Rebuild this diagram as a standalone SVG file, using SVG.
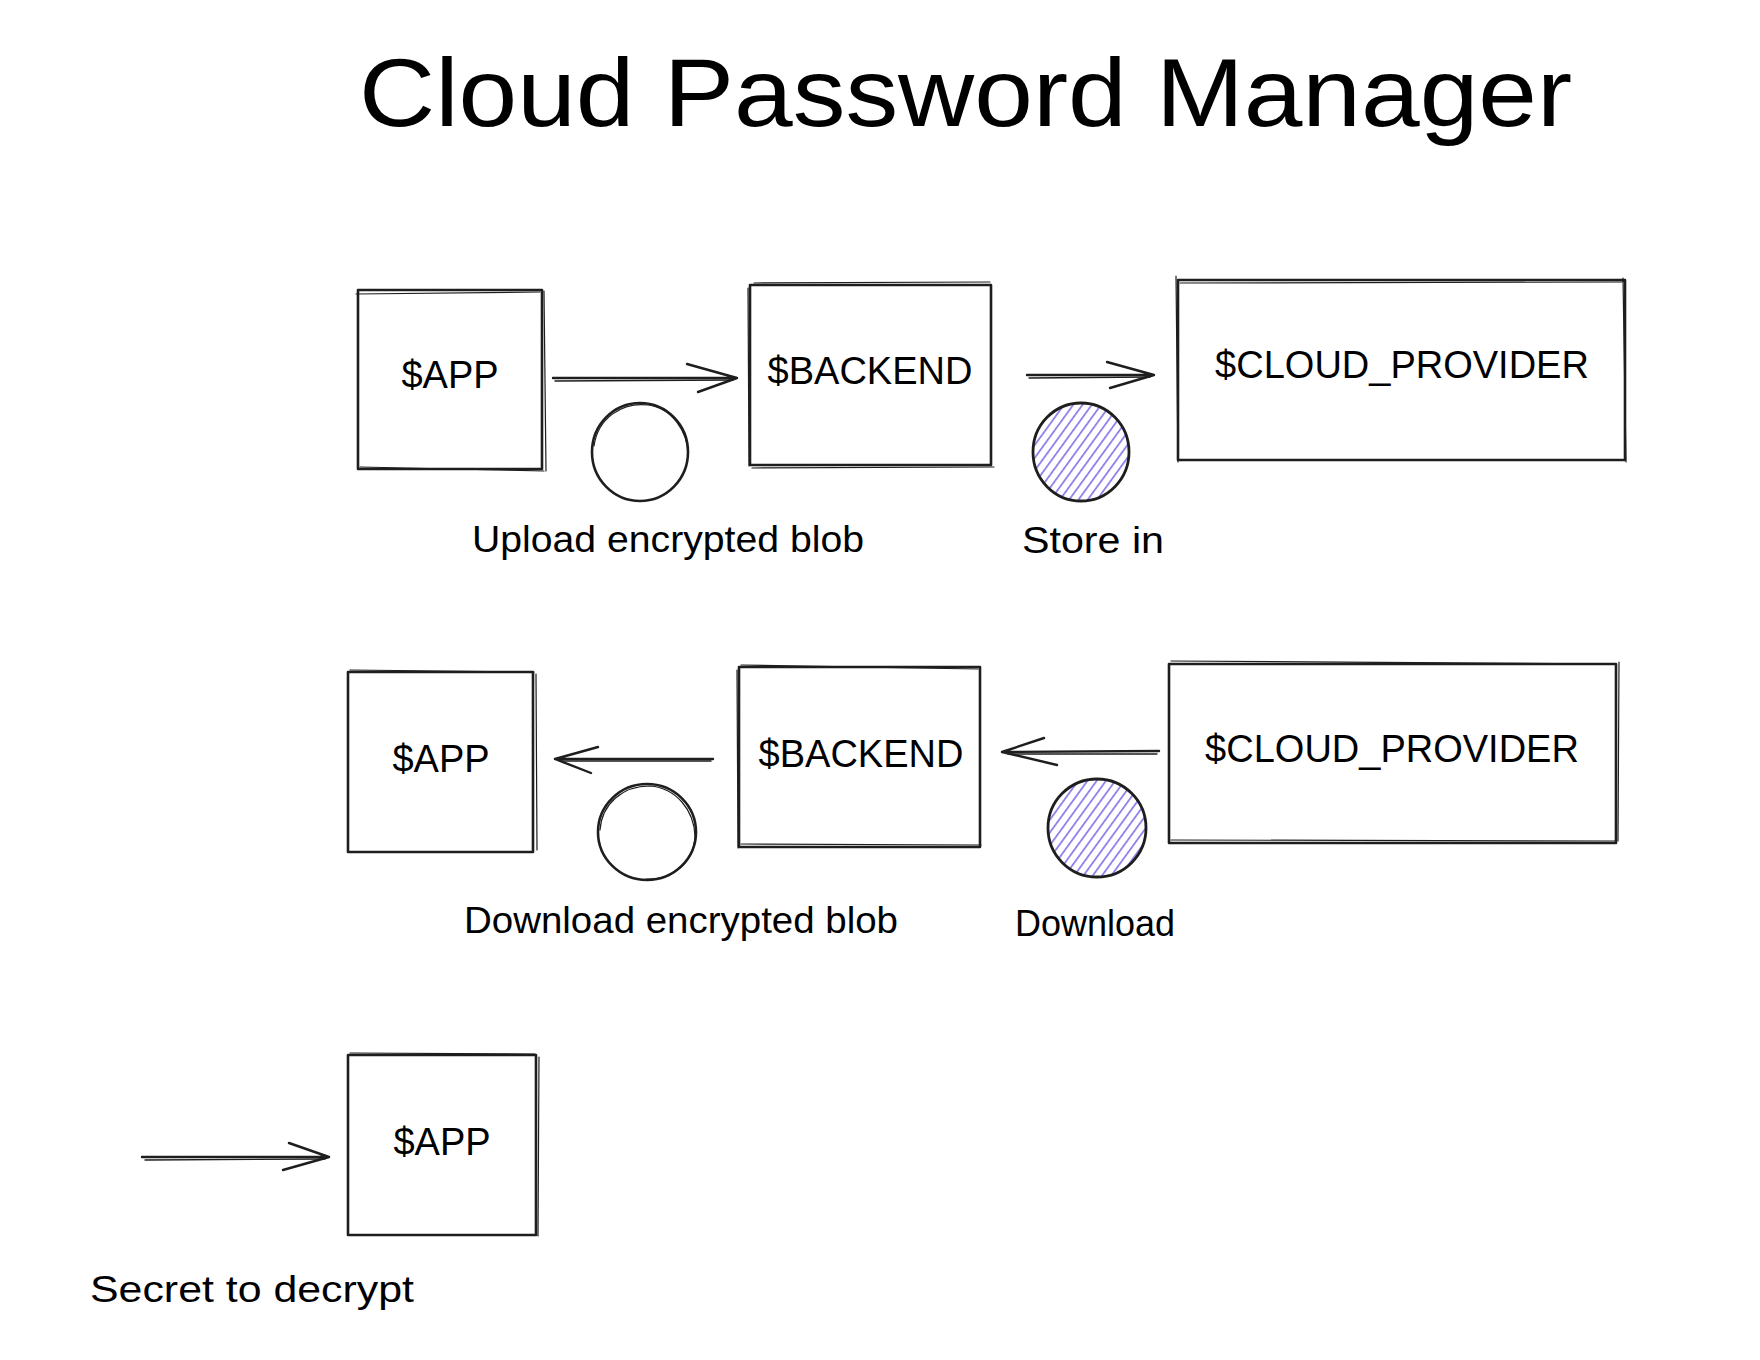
<svg xmlns="http://www.w3.org/2000/svg" width="1760" height="1360" viewBox="0 0 1760 1360">
<style>
.bg{fill:#ffffff}
.box{fill:none;stroke:#1e1e1e;stroke-width:2.6;stroke-linejoin:round}
.sk{fill:none;stroke:#1e1e1e;stroke-width:1.2;stroke-linecap:round}
.ln{fill:none;stroke:#1e1e1e;stroke-width:2.4;stroke-linecap:round;stroke-linejoin:round}
.ln2{fill:none;stroke:#1e1e1e;stroke-width:1.3;stroke-linecap:round}
.circ{fill:none;stroke:#1e1e1e;stroke-width:2.6}
.hcirc{fill:url(#hatch);stroke:#1e1e1e;stroke-width:2.8}
.title{font-family:"Liberation Sans","DejaVu Sans",sans-serif;font-size:96px;fill:#000}
.lbl{font-family:"Liberation Sans","DejaVu Sans",sans-serif;font-size:38px;fill:#000;text-anchor:middle}
.cap{font-family:"Liberation Sans","DejaVu Sans",sans-serif;font-size:36px;fill:#000}
</style>
<defs>
<pattern id="hatch" patternUnits="userSpaceOnUse" width="7.5" height="12" patternTransform="rotate(36)">
<line x1="3.7" y1="0" x2="3.7" y2="12" stroke="#7b66e6" stroke-width="1.5"/>
</pattern>
</defs>
<rect class="bg" x="0" y="0" width="1760" height="1360"/>

<g id="title">
<text class="title" x="359" y="126" textLength="1213" lengthAdjust="spacingAndGlyphs">Cloud Password Manager</text>
</g>

<g id="connectors">
<g id="a1">
<path class="ln" d="M553 378 L737 378 M687 364 L737 378 L698 392"/>
<path class="ln2" d="M555 381 L733 380"/>
</g>
<g id="a2">
<path class="ln" d="M1027 375 L1154 375 M1107 362 L1154 375 L1110 388"/>
<path class="ln2" d="M1029 378 L1150 377"/>
</g>
<g id="a3">
<path class="ln" d="M713 759 L555 759 M598 747 L555 759 L591 773"/>
<path class="ln2" d="M711 761 L560 761"/>
</g>
<g id="a4">
<path class="ln" d="M1159 751 L1002 752 M1044 738 L1002 752 L1057 765"/>
<path class="ln2" d="M1157 754 L1008 754"/>
</g>
<g id="a5">
<path class="ln" d="M142 1157 L329 1157 M289 1143 L329 1157 L283 1170"/>
<path class="ln2" d="M145 1160 L325 1159"/>
</g>
</g>

<g id="app1">
<rect class="box" x="358" y="290" width="184" height="179"/>
<path class="sk" d="M356 294 L540 292 M544 291 L546 471 M360 467 L544 471"/>
<text class="lbl" x="450" y="388">$APP</text>
</g>
<g id="backend1">
<rect class="box" x="750" y="285" width="241" height="180"/>
<path class="sk" d="M754 283 L990 282 M748 288 L749 466 M752 468 L994 467"/>
<text class="lbl" x="870" y="384">$BACKEND</text>
</g>
<g id="cloud1">
<rect class="box" x="1178" y="280" width="447" height="180"/>
<path class="sk" d="M1176 276 L1178 462 M1180 283 L1624 282 M1623 278 L1626 462"/>
<text class="lbl" x="1402" y="378">$CLOUD_PROVIDER</text>
</g>
<g id="c1">
<ellipse class="circ" cx="640" cy="452" rx="48" ry="49"/>
<path class="sk" d="M594 446 C598 418 622 402 648 405 C672 408 688 432 688 455"/>
</g>
<g id="c2">
<ellipse class="hcirc" cx="1081" cy="452" rx="48" ry="49"/>
</g>
<g id="lbl1">
<text class="cap" x="472" y="552" textLength="392" lengthAdjust="spacingAndGlyphs">Upload encrypted blob</text>
</g>
<g id="lbl2">
<text class="cap" x="1022" y="553" textLength="142" lengthAdjust="spacingAndGlyphs">Store in</text>
</g>

<g id="app2">
<rect class="box" x="348" y="672" width="185" height="180"/>
<path class="sk" d="M350 670 L534 672 M536 674 L537 850"/>
<text class="lbl" x="441" y="772">$APP</text>
</g>
<g id="backend2">
<rect class="box" x="739" y="667" width="241" height="180"/>
<path class="sk" d="M741 665 L978 669 M737 670 L738 848 M741 844 L981 845"/>
<text class="lbl" x="861" y="767">$BACKEND</text>
</g>
<g id="cloud2">
<rect class="box" x="1169" y="664" width="447" height="179"/>
<path class="sk" d="M1171 661 L1615 664 M1619 662 L1618 841 M1171 840 L1616 841"/>
<text class="lbl" x="1392" y="762">$CLOUD_PROVIDER</text>
</g>
<g id="c3">
<ellipse class="circ" cx="647" cy="832" rx="49" ry="48"/>
<path class="sk" d="M600 830 C602 804 622 786 650 786 C676 788 694 810 695 836 C694 862 674 880 646 879"/>
</g>
<g id="c4">
<ellipse class="hcirc" cx="1097" cy="828" rx="49" ry="49"/>
</g>
<g id="lbl3">
<text class="cap" x="464" y="933" textLength="434" lengthAdjust="spacingAndGlyphs">Download encrypted blob</text>
</g>
<g id="lbl4">
<text class="cap" x="1015" y="936" textLength="160" lengthAdjust="spacingAndGlyphs">Download</text>
</g>

<g id="app3">
<rect class="box" x="348" y="1055" width="188" height="180"/>
<path class="sk" d="M350 1053 L535 1054 M539 1057 L538 1236"/>
<text class="lbl" x="442" y="1155">$APP</text>
</g>
<g id="lbl5">
<text class="cap" x="90" y="1302" textLength="324" lengthAdjust="spacingAndGlyphs">Secret to decrypt</text>
</g>
</svg>
